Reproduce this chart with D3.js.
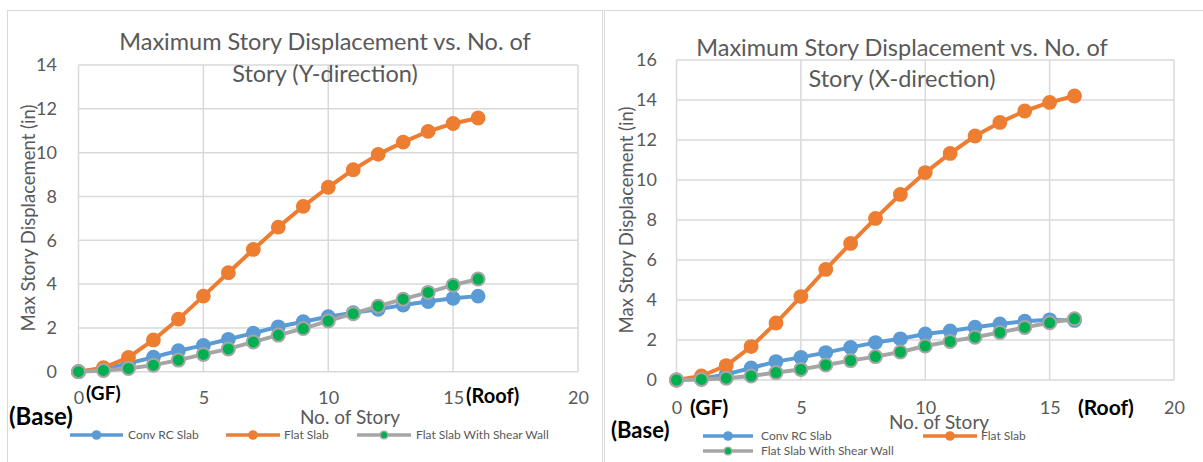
<!DOCTYPE html>
<html>
<head>
<meta charset="utf-8">
<script src="https://cdn.jsdelivr.net/npm/d3@7"></script>
<style>
  html, body { margin: 0; padding: 0; background: #ffffff; }
  svg { display: block; font-family: Lato, "Open Sans", sans-serif; }
</style>
</head>
<body>
<svg id="fig" width="1203" height="462"></svg>
<script>
// Story numbers (0 = base, 16 = roof)
const stories = [0, 1, 2, 3, 4, 5, 6, 7, 8, 9, 10, 11, 12, 13, 14, 15, 16];

const seriesNames = ["Conv RC Slab", "Flat Slab", "Flat Slab With Shear Wall"];

// Maximum story displacement (in), Y-direction
const convSlabY  = [0, 0.12, 0.38, 0.66, 0.96, 1.2, 1.48, 1.76, 2.05, 2.28, 2.51, 2.69, 2.85, 3.04, 3.2, 3.35, 3.45];
const flatSlabY  = [0, 0.18, 0.65, 1.45, 2.4, 3.45, 4.52, 5.58, 6.6, 7.55, 8.42, 9.22, 9.92, 10.48, 10.97, 11.33, 11.58];
const shearWallY = [0, 0.06, 0.15, 0.3, 0.53, 0.79, 1.04, 1.36, 1.67, 1.97, 2.32, 2.65, 2.99, 3.31, 3.62, 3.95, 4.23];

// Maximum story displacement (in), X-direction
const convSlabX  = [0, 0.06, 0.28, 0.6, 0.92, 1.13, 1.37, 1.63, 1.87, 2.06, 2.3, 2.45, 2.64, 2.8, 2.94, 3.01, 2.98];
const flatSlabX  = [0, 0.2, 0.72, 1.67, 2.85, 4.17, 5.53, 6.83, 8.08, 9.28, 10.37, 11.33, 12.2, 12.88, 13.45, 13.88, 14.2];
const shearWallX = [0, 0.03, 0.09, 0.2, 0.37, 0.53, 0.75, 0.97, 1.17, 1.4, 1.7, 1.93, 2.14, 2.38, 2.63, 2.86, 3.06];

const xTicks = [0, 5, 10, 15, 20];
const yTicksY = [0, 2, 4, 6, 8, 10, 12, 14];
const yTicksX = [0, 2, 4, 6, 8, 10, 12, 14, 16];

const titleLine1 = "Maximum Story Displacement vs. No. of";
const titleY = "Story (Y-direction)";
const titleX = "Story (X-direction)";
const yAxisTitle = "Max Story Displacement (in)";
const xAxisTitle = "No. of Story";

const colors = ["#5b9bd5", "#ed7d31", "#a5a5a5"];
const shearFill = "#00b050";
const gridColor = "#d9d9d9";
const textColor = "#595959";

const svg = d3.select("#fig");

function drawChart(opt) {
  const g = svg.append("g");

  // chart frame
  g.append("rect")
    .attr("x", opt.box[0] + 0.5).attr("y", opt.box[1] + 0.5)
    .attr("width", opt.box[2]).attr("height", opt.box[3])
    .attr("fill", "#fff").attr("stroke", gridColor).attr("stroke-width", 1);

  const x = d3.scaleLinear().domain([0, 20]).range([opt.plot.left, opt.plot.right]);
  const y = d3.scaleLinear().domain([0, opt.yMax]).range([opt.plot.bottom, opt.plot.top]);

  // gridlines
  g.append("g").selectAll("line").data(opt.yTicks).join("line")
    .attr("x1", x(0)).attr("x2", x(20))
    .attr("y1", d => y(d)).attr("y2", d => y(d))
    .attr("stroke", gridColor).attr("stroke-width", 1.5);
  g.append("g").selectAll("line").data(xTicks).join("line")
    .attr("x1", d => x(d)).attr("x2", d => x(d))
    .attr("y1", y(0)).attr("y2", y(opt.yMax))
    .attr("stroke", gridColor).attr("stroke-width", 1.5);

  // y axis labels
  const yAxis = d3.axisLeft(y).tickValues(opt.yTicks).tickSize(0).tickPadding(0);
  const ya = g.append("g").attr("transform", `translate(${opt.yLabelX},0)`).call(yAxis);
  ya.select(".domain").remove();
  ya.selectAll("text").attr("fill", textColor).style("font-size", "18px")
    .style("font-family", "Lato, sans-serif");

  // x axis labels
  const xAxis = d3.axisBottom(x).tickValues(xTicks).tickSize(0).tickPadding(0);
  const xa = g.append("g").attr("transform", `translate(0,${opt.xLabelY})`).call(xAxis);
  xa.select(".domain").remove();
  xa.selectAll("text").attr("fill", textColor).attr("dy", "0.35em").attr("y", 0)
    .style("font-size", "18px").style("font-family", "Lato, sans-serif");

  // series
  const line = d3.line().x((d, i) => x(stories[i])).y(d => y(d));
  opt.series.forEach((vals, k) => {
    const s = g.append("g");
    s.append("path").datum(vals).attr("d", line)
      .attr("fill", "none").attr("stroke", colors[k]).attr("stroke-width", 4)
      .attr("stroke-linejoin", "round");
    s.selectAll("circle").data(vals).join("circle")
      .attr("cx", (d, i) => x(stories[i])).attr("cy", d => y(d))
      .attr("r", k === 2 ? 6.5 : 7.4)
      .attr("fill", k === 2 ? shearFill : colors[k])
      .attr("stroke", k === 2 ? colors[2] : "none")
      .attr("stroke-width", k === 2 ? 2 : 0);
  });

  // titles
  const t = g.append("text").attr("text-anchor", "middle").attr("fill", textColor)
    .style("font-size", "23.5px");
  t.append("tspan").attr("x", opt.titleX).attr("y", opt.titleY[0]).attr("dy", "0.35em").text(titleLine1);
  t.append("tspan").attr("x", opt.titleX).attr("y", opt.titleY[1]).attr("dy", "0.35em").text(opt.title2);

  g.append("text")
    .attr("transform", `translate(${opt.yTitle[0]},${opt.yTitle[1]}) rotate(-90)`)
    .attr("text-anchor", "middle").attr("dy", "0.35em").attr("fill", textColor)
    .style("font-size", "18.5px").text(yAxisTitle);

  g.append("text").attr("x", opt.xTitle[0]).attr("y", opt.xTitle[1])
    .attr("text-anchor", "middle").attr("dy", "0.35em").attr("fill", textColor)
    .style("font-size", "19px").text(xAxisTitle);

  // story annotations
  opt.notes.forEach(n => {
    g.append("text").attr("x", n[1]).attr("y", n[2]).attr("dy", "0.35em")
      .attr("fill", "#000").style("font-size", n[3] + "px").style("font-weight", "bold")
      .text(n[0]);
  });

  // legend
  opt.legend.forEach((L, k) => {
    const lg = g.append("g");
    lg.append("line").attr("x1", L[0]).attr("x2", L[1]).attr("y1", L[2]).attr("y2", L[2])
      .attr("stroke", colors[k]).attr("stroke-width", 3.5);
    lg.append("circle").attr("cx", (L[0] + L[1]) / 2).attr("cy", L[2])
      .attr("r", k === 2 ? 3.8 : 4.8)
      .attr("fill", k === 2 ? shearFill : colors[k])
      .attr("stroke", k === 2 ? colors[2] : "none").attr("stroke-width", k === 2 ? 1.5 : 0);
    lg.append("text").attr("x", L[3]).attr("y", L[2]).attr("dy", "0.35em")
      .attr("fill", textColor).style("font-size", "12px").text(seriesNames[k]);
  });
}

drawChart({
  box: [7, 10, 595, 460],
  plot: { left: 78.5, right: 578, top: 65, bottom: 371.7 },
  yMax: 14, yTicks: yTicksY,
  yLabelX: 57, xLabelY: 398,
  series: [convSlabY, flatSlabY, shearWallY],
  titleX: 325, titleY: [42, 74], title2: titleY,
  yTitle: [29, 218], xTitle: [350, 417],
  notes: [["(GF)", 86, 393, 19], ["(Roof)", 466, 396, 20], ["(Base)", 9, 417, 24]],
  legend: [[70, 123, 435, 128], [226, 280, 435, 284], [357, 411, 435, 416]]
});

drawChart({
  box: [604, 10, 610, 460],
  plot: { left: 676.5, right: 1174, top: 60, bottom: 380 },
  yMax: 16, yTicks: yTicksX,
  yLabelX: 657, xLabelY: 408,
  series: [convSlabX, flatSlabX, shearWallX],
  titleX: 902, titleY: [48, 79], title2: titleX,
  yTitle: [627, 220], xTitle: [939, 422],
  notes: [["(GF)", 690, 408, 21], ["(Roof)", 1078, 408, 21], ["(Base)", 611, 430, 22]],
  legend: [[703, 753, 436, 761], [923, 977, 436, 981], [703, 753, 451, 761]]
});
</script>
</body>
</html>
